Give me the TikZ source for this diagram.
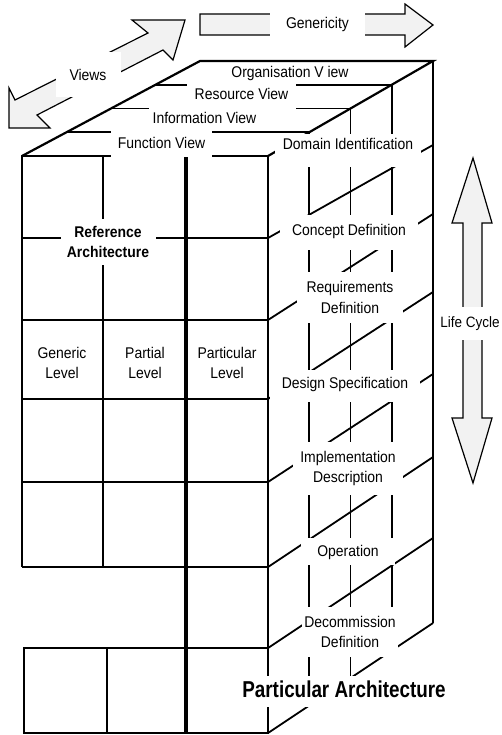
\documentclass[tikz,border=0pt]{standalone}
\usepackage{fontspec}
\setmainfont{Liberation Sans}[FakeStretch=0.9]
\newfontfamily\titlefont{Liberation Sans}[FakeStretch=0.82]
\definecolor{dotgrey}{RGB}{242,242,242}

\begin{document}
\begin{tikzpicture}[x=1pt, y=-1pt,
    cube/.style={line width=1.8pt},
    heavy/.style={line width=4pt},
    rim/.style={line width=2.2pt, line join=miter},
    blockarrow/.style={draw, line width=1.2pt, fill=dotgrey, line join=miter},
    lbl/.style={font=\fontsize{15.5}{20.5}\selectfont, align=center},
    gap/.style={lbl, fill=white, inner sep=0pt}]
    \useasboundingbox (0,0) rectangle (501,735);

    \draw[blockarrow] (9,128) -- (9,88) -- (15,100) -- (148,33) -- (132,20) -- (185,20) -- (173,60) -- (163,50) -- (37,115) -- (50,128) -- cycle;
    \draw[blockarrow] (200,14) -- (405,14) -- (405,4) -- (433,25) -- (405,47) -- (405,35) -- (200,35) -- cycle;
    \draw[blockarrow] (473,158) -- (492,223) -- (482,223) -- (482,418) -- (492,418) -- (473,483) -- (452,418) -- (463,418) -- (463,223) -- (452,223) -- cycle;

    \draw[cube] (22,567) -- (22,156) -- (268,156) -- (268,733);
    \draw[cube] (103,156) -- (103,567);
    \foreach \y in {238,320,399,482,567}
        \draw[cube] (22,\y) -- (268,\y);
    \draw[cube] (24,648) rectangle (268,733);
    \draw[cube] (107,648) -- (107,733);
    \draw[heavy] (186,156) -- (186,733);

    \foreach \f/\b in {238/145,320/214,399/292,482/374,567/457,648/538,733/623}
        \draw[cube] (268,\f) -- (433,\b);
    \foreach \t in {0.25,0.5,0.75}
        \draw[cube] ({268+165*\t},{156-95*\t}) -- ({268+165*\t},{733-110*\t});
    \draw[cube] (433,61) -- (433,623);

    \foreach \t in {0.25,0.5,0.75}
        \draw[cube] ({22+178*\t},{156-95*\t}) -- ({268+165*\t},{156-95*\t});
    \draw[rim] (22,156) -- (200,61) -- (433,61) -- (268,156);

    \node[gap, minimum width=65pt, minimum height=45pt] (views) at (88,74.5) {Views};
    \node[gap, minimum width=95pt, minimum height=25pt] (genericity) at (317.5,24.5) {Genericity};
    \node[gap, font=\fontsize{15}{20}\selectfont, minimum width=58pt, minimum height=33pt] (lifecycle) at (470,323.5) {Life Cycle};

    \node[gap, anchor=base, text height=11pt, text depth=6pt, inner xsep=4pt] (orgview) at (290,77.5) {Organisation V iew};
    \node[gap, anchor=base, text height=15.5pt, text depth=11.5pt, inner xsep=8pt] (resview) at (241.5,99.5) {Resource View};
    \node[gap, anchor=base, text height=17.5pt, text depth=4.5pt, inner xsep=4pt] (infoview) at (204.5,123.5) {Information View};
    \node[gap, anchor=base, text height=20.5pt, text depth=8.5pt, inner xsep=7pt] (funcview) at (161.5,148.5) {Function View};

    \node[gap, anchor=base, text height=16pt, text depth=17pt, inner xsep=8pt] (domain) at (348,150) {Domain Identification};
    \node[gap, anchor=base, text height=20pt, text depth=15pt, inner xsep=12pt] (concept) at (349,235) {Concept Definition};
    \node[gap, minimum width=106pt, minimum height=51pt] (require) at (350,297.5) {Requirements\\Definition};
    \node[gap, anchor=base, text height=18pt, text depth=14pt, inner xsep=12pt] (design) at (345,388) {Design Specification};
    \node[gap, minimum width=110pt, minimum height=53pt] (implement) at (348,468.5) {Implementation\\Description};
    \node[gap, anchor=base, text height=18pt, text depth=9pt, inner xsep=16pt] (operation) at (348,556) {Operation};
    \node[gap, minimum width=96pt, minimum height=50pt] (decommission) at (350,632) {Decommission\\Definition};

    \node[gap, font=\bfseries\fontsize{15.5}{20.5}\selectfont, minimum width=95pt, minimum height=46pt] (refarch) at (108,242) {Reference\\Architecture};
    \node[lbl] (generic) at (62,363) {Generic\\Level};
    \node[lbl] (partial) at (145,363) {Partial\\Level};
    \node[lbl] (particular) at (227,363) {Particular\\Level};
    \node[gap, font=\titlefont\bfseries\fontsize{23}{26}\selectfont, anchor=base, text height=21pt, text depth=10pt, inner xsep=2pt] (partarch) at (344,697) {Particular Architecture};
\end{tikzpicture}
\end{document}
